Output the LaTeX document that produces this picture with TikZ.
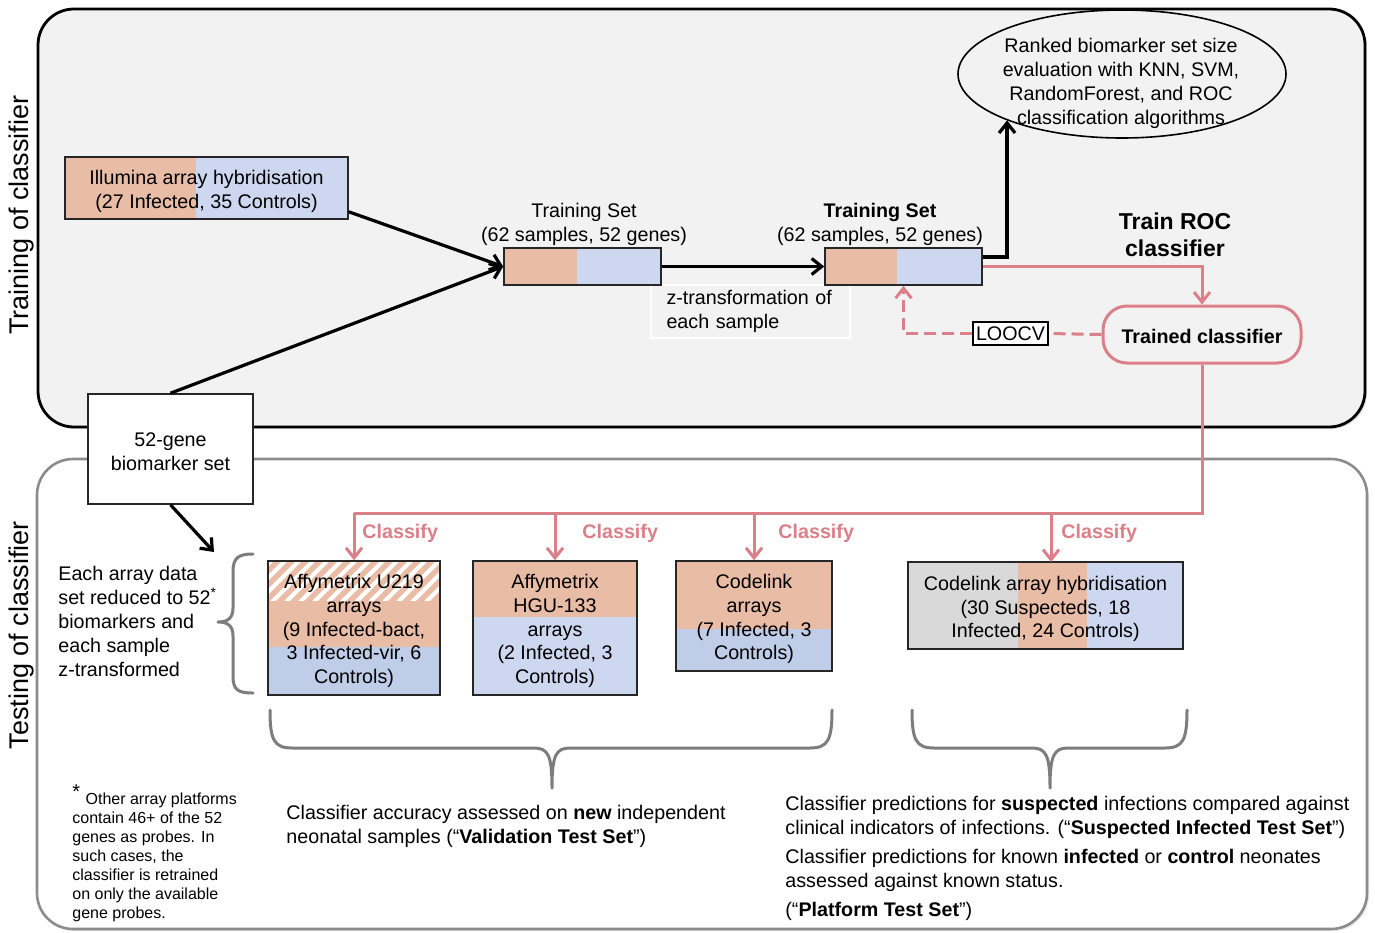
\documentclass[tikz,border=0pt]{standalone}
\usepackage{fontspec}
\setmainfont{Liberation Sans}
\usetikzlibrary{arrows.meta,shapes.geometric,calc,shadows}
\definecolor{peach}{RGB}{232,188,165}
\definecolor{lblue}{RGB}{205,216,240}
\definecolor{dblue}{RGB}{192,205,232}
\definecolor{grayfill}{RGB}{217,217,217}
\definecolor{pinkc}{RGB}{219,127,137}
\definecolor{panelgray}{RGB}{242,242,242}
\definecolor{bracegray}{RGB}{125,125,125}
\begin{document}
\begin{tikzpicture}[x=0.5pt,y=-0.5pt,
  font=\fontsize{9.85}{11.9}\selectfont,
  box/.style={draw=black!85, line width=0.8pt, inner sep=0pt, align=center},
  btext/.style={inner sep=0pt, align=center},
  blk/.style={draw=black, line width=1.6pt, -{Straight Barb[length=5pt,width=8pt]}},
  pk/.style={draw=pinkc, line width=1.5pt},
  pkarrow/.style={pk, -{Straight Barb[length=5pt,width=8pt]}},
  pkdash/.style={pk, dash pattern=on 6pt off 3pt},
  classify/.style={text=pinkc, font=\fontsize{9.85}{12}\selectfont\bfseries, inner sep=0pt, anchor=west},
  brc/.style={draw=bracegray, line width=1.5pt, line join=round, line cap=round},
  plain/.style={inner sep=0pt, align=left, anchor=west},
  sidelab/.style={rotate=90, font=\fontsize{13.5}{16}\selectfont}
]
\useasboundingbox (0,0) rectangle (1375,932);

% panels
\draw[fill=panelgray, line width=1.4pt, rounded corners=18pt,
      drop shadow={opacity=0.25, shadow xshift=1pt, shadow yshift=-1pt}]
      (38,9) rectangle (1365,427);
\draw[fill=white, draw=black!45, line width=1.3pt, rounded corners=18pt,
      drop shadow={opacity=0.2, shadow xshift=1pt, shadow yshift=-1pt}]
      (37,459) rectangle (1367,929);

\node[sidelab] (tlab) at (22,215) {Training of classifier};
\node[sidelab] (tslab) at (22,635) {Testing of classifier};

% illumina box
\fill[peach] (65,157) rectangle (196,219);
\fill[lblue] (196,157) rectangle (348,219);
\node[box, minimum width=141.5pt, minimum height=31pt] (illum) at (206.5,188) {};
\node[btext] (illumt) at (206.5,191) {Illumina array hybridisation\\(27 Infected, 35 Controls)};

% z-transformation label
\node[draw=white, line width=0.8pt, minimum width=99.5pt, minimum height=26.5pt,
      text width=84pt, inner xsep=7.5pt, inner ysep=0pt, align=left] (zt) at (750.5,311.5)
  {z-transformation of\\each sample};

% training set 1
\fill[peach] (504,248) rectangle (577,285);
\fill[lblue] (577,248) rectangle (661,285);
\node[box, minimum width=78.5pt, minimum height=18.5pt] (ts1) at (582.5,266.5) {};
\node[btext] (ts1lab) at (584,224.5) {Training Set\\(62 samples, 52 genes)};

% training set 2
\fill[peach] (825,248) rectangle (897,285);
\fill[lblue] (897,248) rectangle (982,285);
\node[box, minimum width=78.5pt, minimum height=18.5pt] (ts2) at (903.5,266.5) {};
\node[btext] (ts2lab) at (880,224.5) {\textbf{Training Set}\\(62 samples, 52 genes)};

% ellipse
\node[draw, ellipse, line width=0.8pt, minimum width=164pt, minimum height=64pt, inner sep=0pt] (ell) at (1122,74) {};
\node[btext] (elltext) at (1121,83.5)
  {Ranked biomarker set size\\evaluation with KNN, SVM,\\RandomForest, and ROC\\classification algorithms};

\node[btext, font=\fontsize{11.5}{13.5}\selectfont\bfseries] (trainroc) at (1175,235)
  {Train ROC\\classifier};

% trained classifier
\node[draw=pinkc, line width=1.5pt, rounded corners=12pt, minimum width=99pt, minimum height=28.5pt,
      text height=9pt, text depth=0pt,
      fill=panelgray, font=\fontsize{9.85}{12}\selectfont\bfseries] (tc) at (1202,334.5) {Trained classifier};
\node[draw=black, line width=0.6pt, fill=white, inner xsep=1.5pt, inner ysep=1pt, minimum height=11.5pt] (loo) at (1010.5,333.5) {LOOCV};

% 52-gene box
\node[box, fill=white, minimum width=82.5pt, minimum height=55pt] (gene) at (170.5,449) {};
\node[btext] (genet) at (170.5,452) {52-gene\\biomarker set};

% black arrows
\draw[blk] ([yshift=4pt]illum.south east) -- (ts1.west);
\draw[blk] (gene.north) -- (ts1.west);
\draw[blk] (ts1.east) -- (ts2.west);
\draw[blk] ([yshift=4.75pt]ts2.east) -| (ell.202);

% pink
\draw[pkarrow] (ts2.east) -| (tc.north);
\draw[pkdash] (tc.west) -- (loo.east);
\draw[pkdash, -{Straight Barb[length=5pt,width=8pt]}] (loo.west) -| (ts2.south);

% test boxes
\fill[peach] (268,561) rectangle (440,647);
\fill[dblue] (268,647) rectangle (440,695);
\begin{scope}
  \clip (268,561) rectangle (440,600);
  \foreach \i in {216,230,...,450} { \draw[white, line width=2pt] (\i,602) -- ++(43,-43); }
\end{scope}
\node[box, minimum width=86pt, minimum height=67pt] (u219) at (354,628) {};
\node[btext] (u219t) at (354,631)
  {Affymetrix U219\\arrays\\(9 Infected-bact,\\3 Infected-vir, 6\\Controls)};

\fill[peach] (473,561) rectangle (637,617);
\fill[lblue] (473,617) rectangle (637,695);
\node[box, minimum width=82pt, minimum height=67pt] (hgu) at (555,628) {};
\node[btext] (hgut) at (555,631)
  {Affymetrix\\HGU-133\\arrays\\(2 Infected, 3\\Controls)};

\fill[peach] (676,561) rectangle (832,629);
\fill[dblue] (676,629) rectangle (832,671);
\node[box, minimum width=78pt, minimum height=55pt] (cl) at (754,616) {};
\node[btext] (clt) at (754,619)
  {Codelink\\arrays\\(7 Infected, 3\\Controls)};

\fill[grayfill] (908,562) rectangle (1018,649);
\fill[peach] (1018,562) rectangle (1087,649);
\fill[lblue] (1087,562) rectangle (1183,649);
\node[box, minimum width=137.5pt, minimum height=43.5pt] (clh) at (1045.5,605.5) {};
\node[btext] (clht) at (1045.5,609)
  {Codelink array hybridisation\\(30 Suspecteds, 18\\Infected, 24 Controls)};

% classify bus
\coordinate (bus) at (0,513);
\draw[pk] (tc.south) |- (u219.north |- bus);
\draw[pkarrow] (u219.north |- bus) -- (u219.north);
\draw[pkarrow] (hgu.north |- bus) -- (hgu.north);
\draw[pkarrow] (cl.north |- bus) -- (cl.north);
\coordinate (clhin) at (1051,562);
\draw[pkarrow] (clhin |- bus) -- (clhin);
\node[classify] (c1) at (362,533) {Classify};
\node[classify] (c2) at (582,533) {Classify};
\node[classify] (c3) at (778,533) {Classify};
\node[classify] (c4) at (1061,533) {Classify};

% gene -> brace
\coordinate (bt) at (214,552);
\draw[blk] (gene.south) -- (bt);

% braces
\draw[brc] (253,554) .. controls (238,554) and (233,558) .. (233,572) -- (233,608)
  .. controls (233,618) and (228,622) .. (218,622)
  .. controls (228,622) and (233,626) .. (233,636) -- (233,676)
  .. controls (233,690) and (238,693) .. (253,693);
\draw[brc] (270,710) .. controls (270,740) and (274,748) .. (292,748) -- (534,748)
  .. controls (548,748) and (552,755) .. (552,788)
  .. controls (552,755) and (556,748) .. (570,748) -- (810,748)
  .. controls (828,748) and (832,740) .. (832,710);
\draw[brc] (912,710) .. controls (912,740) and (916,748) .. (934,748) -- (1032,748)
  .. controls (1046,748) and (1050,755) .. (1050,788)
  .. controls (1050,755) and (1054,748) .. (1068,748) -- (1165,748)
  .. controls (1183,748) and (1187,740) .. (1187,710);

% texts
\node[plain] (eachtxt) at (58,621.5)
  {Each array data\\set reduced to 52\textsuperscript{*}\\biomarkers and\\each sample\\z-transformed};
\node[plain, font=\fontsize{8}{9.5}\selectfont] (fn) at (72,853.5)
  {\textsuperscript{\fontsize{10}{10}\selectfont *} Other array platforms\\contain 46+ of the 52\\genes as probes. In\\such cases, the\\classifier is retrained\\on only the available\\gene probes.};
\node[plain] (valtxt) at (286,826.5)
  {Classifier accuracy assessed on \textbf{new} independent\\neonatal samples (“\textbf{Validation Test Set}”)};
\node[plain] (sustxt) at (785,817)
  {Classifier predictions for \textbf{suspected} infections compared against\\clinical indicators of infections. (“\textbf{Suspected Infected Test Set}”)};
\node[plain] (plattxt) at (785,885)
  {Classifier predictions for known \textbf{infected} or \textbf{control} neonates\\assessed against known status.\\[2.7pt](“\textbf{Platform Test Set}”)};
\end{tikzpicture}
\end{document}
